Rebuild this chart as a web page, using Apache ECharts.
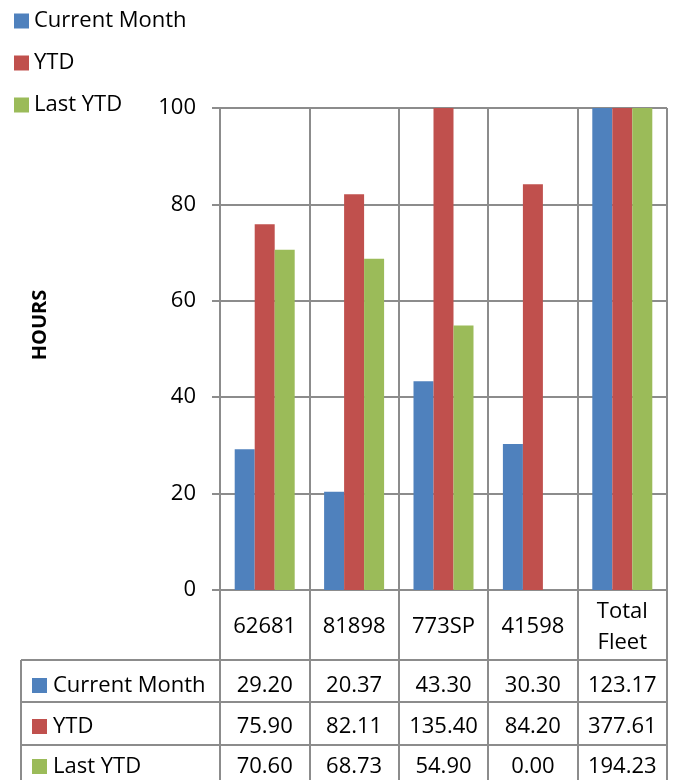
<!DOCTYPE html>
<html><head><meta charset="utf-8">
<script src="https://cdn.jsdelivr.net/npm/echarts@6/dist/echarts.min.js"></script>
<style>html,body{margin:0;padding:0;background:#fff}#c{width:678px;height:780px}</style>
</head><body><div id="c"></div>
<script>
const categories = ['62681', '81898', '773SP', '41598', 'Total\nFleet'];
const seriesNames = ['Current Month', 'YTD', 'Last YTD'];
const currentMonth = [29.20, 20.37, 43.30, 30.30, 123.17];
const ytd = [75.90, 82.11, 135.40, 84.20, 377.61];
const lastYtd = [70.60, 68.73, 54.90, 0.00, 194.23];
const yTicks = { min: 0, max: 100, interval: 20 };
const colors = ['#4F81BD', '#C0504D', '#9BBB59'];

const FONT = 'Open Sans';
const GRID = '#8c8c8c';
const allData = [currentMonth, ytd, lastYtd];

const chart = echarts.init(document.getElementById('c'));

const rowMargins = [96, 137, 177];
const tableAxes = allData.map((arr, i) => ({
  type: 'category', position: 'bottom', gridIndex: 0,
  data: arr.map(v => v.toFixed(2)),
  axisLine: { show: false }, axisTick: { show: false }, splitLine: { show: false },
  axisLabel: { interval: 0, margin: rowMargins[i], verticalAlign: 'middle',
    fontFamily: FONT, fontSize: 22, color: '#000' }
}));

const rowLines = [660, 702, 745];
const graphics = [];
rowLines.forEach(y => graphics.push({ type: 'line', shape: { x1: 21, y1: y, x2: 667, y2: y }, style: { stroke: GRID, lineWidth: 2 } }));
graphics.push({ type: 'line', shape: { x1: 21, y1: 660, x2: 21, y2: 780 }, style: { stroke: GRID, lineWidth: 2 } });
const rowCenters = [686, 727, 767];
seriesNames.forEach((n, i) => {
  graphics.push({ type: 'rect', shape: { x: 32, y: rowCenters[i] - 8, width: 15, height: 15 }, style: { fill: colors[i] } });
  graphics.push({ type: 'text', x: 53, y: rowCenters[i], style: { text: n, fontFamily: FONT, fontSize: 22, fill: '#000', verticalAlign: 'middle' } });
});
graphics.push({ type: 'text', x: 40, y: 325, rotation: Math.PI / 2,
  style: { text: 'HOURS', fontFamily: FONT, fontSize: 20, fontWeight: 'bold', fill: '#000', align: 'center', verticalAlign: 'middle' } });

chart.setOption({
  animation: false,
  color: colors,
  textStyle: { fontFamily: FONT },
  legend: {
    orient: 'vertical', left: 9, top: 5, itemGap: 20, padding: 5,
    itemWidth: 15, itemHeight: 15, icon: 'rect',
    textStyle: { fontFamily: FONT, fontSize: 22, color: '#000' },
    data: seriesNames
  },
  grid: { left: 220, right: 11, top: 108, bottom: 190, containLabel: false },
  xAxis: [{
    type: 'category', data: categories, position: 'bottom',
    axisLine: { show: true, lineStyle: { color: GRID, width: 2 } },
    axisTick: { show: true, length: 190, interval: 0, lineStyle: { color: GRID, width: 2 } },
    splitLine: { show: true, interval: 0, lineStyle: { color: GRID, width: 2 } },
    axisLabel: { interval: 0, margin: 37, verticalAlign: 'middle', lineHeight: 31,
      fontFamily: FONT, fontSize: 22, color: '#000' }
  }].concat(tableAxes),
  yAxis: {
    type: 'value', min: yTicks.min, max: yTicks.max, interval: yTicks.interval,
    axisLine: { show: true, lineStyle: { color: GRID, width: 2 } },
    axisTick: { show: true, length: 8, lineStyle: { color: GRID, width: 2 } },
    splitLine: { show: true, lineStyle: { color: GRID, width: 2 } },
    axisLabel: { margin: 24, fontFamily: FONT, fontSize: 22, color: '#000' }
  },
  series: seriesNames.map((n, i) => ({
    name: n, type: 'bar', data: allData[i], barWidth: 20, barGap: '0%', clip: true,
    xAxisIndex: 0
  })),
  graphic: graphics
});
</script></body></html>
